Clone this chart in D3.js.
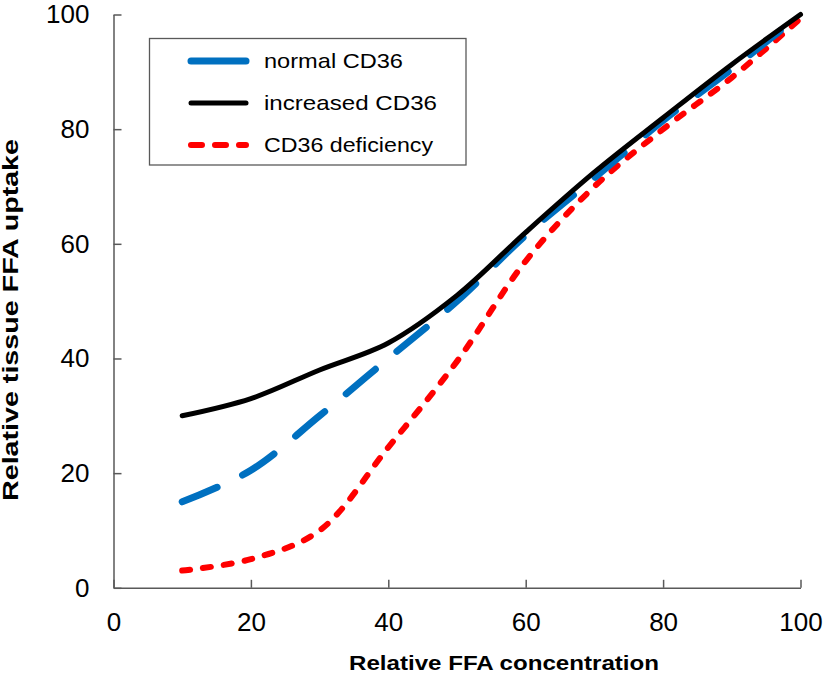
<!DOCTYPE html>
<html><head><meta charset="utf-8">
<script src="https://cdn.jsdelivr.net/npm/d3@7"></script>
<style>body{margin:0;background:#fff}svg{display:block}text{font-family:"Liberation Sans",Arial,sans-serif}</style>
</head><body><svg id="c" width="826" height="679"></svg>
<script>
const xValues = [10, 20, 30, 40, 50, 60, 70, 80, 90, 100];
const normalCD36 = [15, 20.5, 30, 40, 50, 61.5, 71.5, 81.5, 90.5, 100];
const increasedCD36 = [30, 33, 38, 42.7, 51, 62, 72.5, 82, 91.3, 100];
const deficiencyCD36 = [3, 5, 10, 24.5, 39.5, 57, 70, 80, 89, 99.3];
const seriesNames = ["normal CD36", "increased CD36", "CD36 deficiency"];
const xTicks = [0, 20, 40, 60, 80, 100];
const yTicks = [0, 20, 40, 60, 80, 100];

const svg = d3.select("#c");
const x = d3.scaleLinear().domain([0, 100]).range([113.5, 800.5]);
const y = d3.scaleLinear().domain([0, 100]).range([587.8, 14.5]);

const axisColor = "#595959";
const gx = svg.append("g").attr("transform", `translate(0,${y(0)})`)
  .call(d3.axisBottom(x).tickValues(xTicks).tickSizeInner(-8).tickSizeOuter(0).tickPadding(25));
const gy = svg.append("g").attr("transform", `translate(${x(0)},0)`)
  .call(d3.axisLeft(y).tickValues(yTicks).tickSizeInner(-8).tickSizeOuter(0).tickPadding(24));
[gx, gy].forEach(g => {
  g.select(".domain").attr("stroke", axisColor).attr("stroke-width", 1.5);
  g.selectAll(".tick line").attr("stroke", axisColor).attr("stroke-width", 1.5);
  g.selectAll(".tick text").attr("fill", "#000").style("font-size", "26px").style("font-family", '"Liberation Sans",Arial,sans-serif');
});

const series = [
  {name: seriesNames[0], values: normalCD36, color: "#0070C0", width: 7, dash: "38,28", legendDash: null, textLen: 139},
  {name: seriesNames[1], values: increasedCD36, color: "#000000", width: 5, dash: null, legendDash: null, textLen: 173},
  {name: seriesNames[2], values: deficiencyCD36, color: "#FF0000", width: 6, dash: "8,13", legendDash: "11,13", textLen: 169}
];
const line = d3.line().x((d, i) => x(xValues[i])).y(d => y(d)).curve(d3.curveCatmullRom.alpha(0.5));
const drawOrder = [2, 0, 1];
drawOrder.forEach(k => {
  const s = series[k];
  svg.append("path").datum(s.values).attr("d", line)
    .attr("fill", "none").attr("stroke", s.color).attr("stroke-width", s.width)
    .attr("stroke-linecap", "round").attr("stroke-linejoin", "round")
    .attr("stroke-dasharray", s.dash);
});

// legend
const lg = svg.append("g");
lg.append("rect").attr("x", 149.5).attr("y", 38.5).attr("width", 316.5).attr("height", 126.5)
  .attr("fill", "#fff").attr("stroke", "#595959").attr("stroke-width", 1.3);
const rowsY = [61, 103, 145];
series.forEach((s, i) => {
  lg.append("line").attr("x1", 191).attr("x2", 246).attr("y1", rowsY[i]).attr("y2", rowsY[i])
    .attr("stroke", s.color).attr("stroke-width", s.width).attr("stroke-linecap", "round")
    .attr("stroke-dasharray", s.legendDash);
  lg.append("text").attr("x", 264).attr("y", rowsY[i]).attr("dy", "0.35em")
    .attr("textLength", s.textLen).attr("lengthAdjust", "spacingAndGlyphs")
    .style("font-size", "21px").attr("fill", "#000").text(s.name);
});

svg.append("text").attr("x", 349).attr("y", 670)
  .attr("textLength", 310).attr("lengthAdjust", "spacingAndGlyphs")
  .style("font-size", "21px").style("font-weight", "bold").text("Relative FFA concentration");
svg.append("text").attr("transform", "translate(18,501) rotate(-90)")
  .attr("textLength", 362).attr("lengthAdjust", "spacingAndGlyphs")
  .style("font-size", "22px").style("font-weight", "bold").text("Relative tissue FFA uptake");
</script></body></html>
